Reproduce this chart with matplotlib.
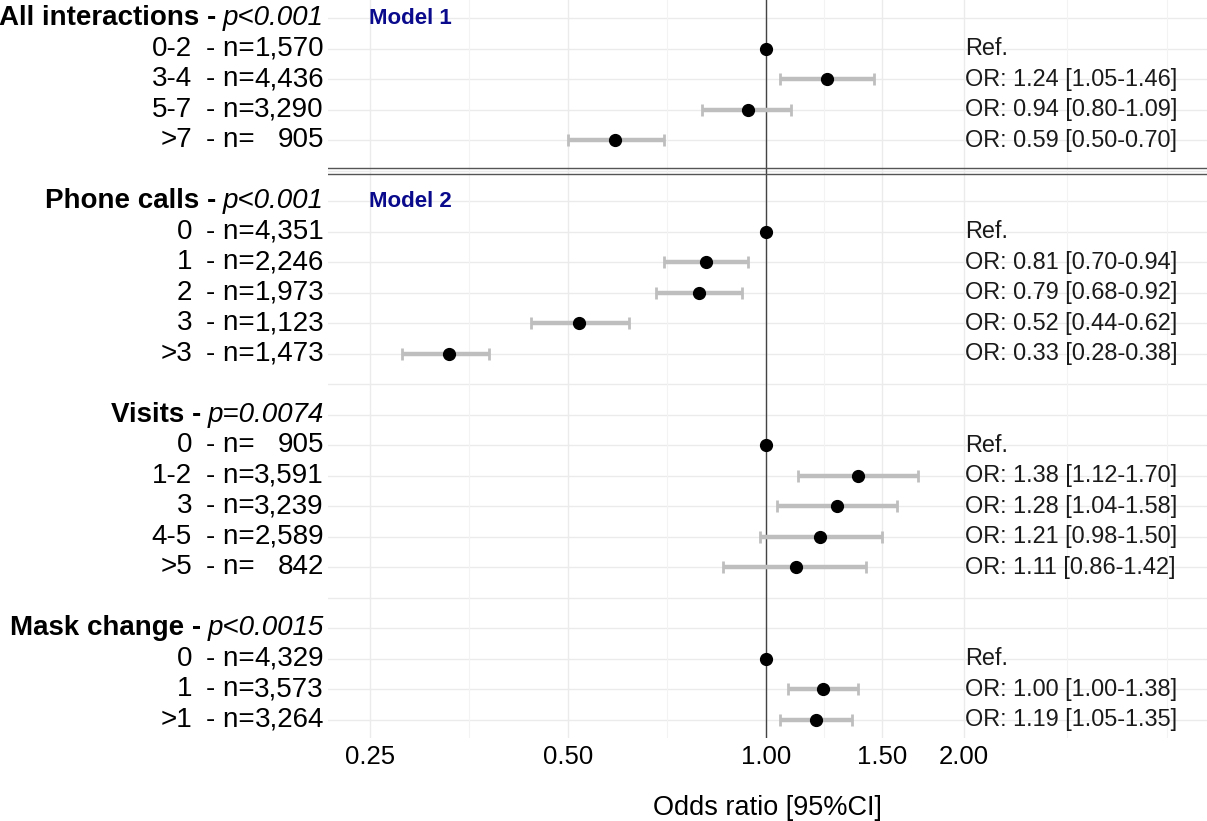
import matplotlib
matplotlib.use("Agg")
import matplotlib.pyplot as plt
import matplotlib.transforms as mtransforms
import numpy as np

plt.rcParams['font.family'] = ['Liberation Sans', 'DejaVu Sans']

# rows: header / item / blank, and the separator between the two models
row_kind = ['h', 'i', 'i', 'i', 'i', 'sep',
            'h', 'i', 'i', 'i', 'i', 'i', 'b',
            'h', 'i', 'i', 'i', 'i', 'i', 'b',
            'h', 'i', 'i', 'i']

headers = ['All interactions -', 'Phone calls -', 'Visits -', 'Mask change -']
header_p = ['p<0.001', 'p<0.001', 'p=0.0074', 'p<0.0015']

categories = ['0-2', '3-4', '5-7', '>7',
              '0', '1', '2', '3', '>3',
              '0', '1-2', '3', '4-5', '>5',
              '0', '1', '>1']
n_counts = ['1,570', '4,436', '3,290', '905',
            '4,351', '2,246', '1,973', '1,123', '1,473',
            '905', '3,591', '3,239', '2,589', '842',
            '4,329', '3,573', '3,264']
odds_ratio = [1.00, 1.24, 0.94, 0.59,
              1.00, 0.81, 0.79, 0.52, 0.33,
              1.00, 1.38, 1.28, 1.21, 1.11,
              1.00, 1.22, 1.19]
ci_low = [np.nan, 1.05, 0.80, 0.50,
          np.nan, 0.70, 0.68, 0.44, 0.28,
          np.nan, 1.12, 1.04, 0.98, 0.86,
          np.nan, 1.08, 1.05]
ci_high = [np.nan, 1.46, 1.09, 0.70,
           np.nan, 0.94, 0.92, 0.62, 0.38,
           np.nan, 1.70, 1.58, 1.50, 1.42,
           np.nan, 1.38, 1.35]
or_labels = ['Ref.', 'OR: 1.24 [1.05-1.46]', 'OR: 0.94 [0.80-1.09]', 'OR: 0.59 [0.50-0.70]',
             'Ref.', 'OR: 0.81 [0.70-0.94]', 'OR: 0.79 [0.68-0.92]', 'OR: 0.52 [0.44-0.62]',
             'OR: 0.33 [0.28-0.38]',
             'Ref.', 'OR: 1.38 [1.12-1.70]', 'OR: 1.28 [1.04-1.58]', 'OR: 1.21 [0.98-1.50]',
             'OR: 1.11 [0.86-1.42]',
             'Ref.', 'OR: 1.00 [1.00-1.38]', 'OR: 1.19 [1.05-1.35]']
model_labels = ['Model 1', 'Model 2']

x_ticks = [0.25, 0.5, 1.0, 1.5, 2.0]
x_minor = [0.3536, 0.7071, 1.2247, 2.87, 4.07]

W, H = 1207, 821
fig = plt.figure(figsize=(W / 100, H / 100), dpi=100)
ax = fig.add_axes([328 / W, 1 - 738 / H, 1 - 328 / W, 738 / H])

ax.set_xscale('log', base=2)
ax.set_xlim(0.216, 4.68)
ax.set_ylim(len(row_kind) - 0.4, -0.6)

item_rows = [i for i, k in enumerate(row_kind) if k == 'i']
header_rows = [i for i, k in enumerate(row_kind) if k == 'h']

# grid
for r in range(len(row_kind)):
    ax.axhline(r, color='#EBEBEB', lw=1.0, zorder=0)
for xv in x_ticks:
    ax.axvline(xv, color='#EBEBEB', lw=1.0, zorder=0)
for xv in x_minor:
    ax.axvline(xv, color='#F3F3F3', lw=0.8, zorder=0)

ax.axvline(1.0, color='#444444', lw=1.0, zorder=1)

# double line between the models
sep = row_kind.index('sep')
ax.axhline(sep - 0.09, color='#555555', lw=1.0, zorder=1)
ax.axhline(sep + 0.09, color='#555555', lw=1.0, zorder=1)

or_arr = np.array(odds_ratio)
lo = np.array(ci_low)
hi = np.array(ci_high)
has_ci = ~np.isnan(lo)
y_items = np.array(item_rows)
ax.errorbar(or_arr[has_ci], y_items[has_ci],
            xerr=[or_arr[has_ci] - lo[has_ci], hi[has_ci] - or_arr[has_ci]],
            fmt='none', ecolor='#BEBEBE', elinewidth=3.2, capsize=4, capthick=2.0, zorder=2)
ax.plot(or_arr, y_items, 'o', color='black', markersize=8.5, zorder=3)

for y, lab in zip(item_rows, or_labels):
    ax.text(2.01, y, lab, ha='left', va='center', fontsize=16.9, color='#1a1a1a')

for y, lab in zip([header_rows[0], header_rows[1]], model_labels):
    ax.text(0.249, y, lab, ha='left', va='center', fontsize=16, fontweight='bold', color='#0A0A8C')

# left labels: category, "- n=", right-aligned count
trans = mtransforms.blended_transform_factory(fig.transFigure, ax.transData)
for y, cat, n in zip(item_rows, categories, n_counts):
    ax.text(192 / W, y, cat, transform=trans, ha='right', va='center', fontsize=20, clip_on=False)
    ax.text(206 / W, y, '- n=', transform=trans, ha='left', va='center', fontsize=20, clip_on=False)
    ax.text(324 / W, y, n, transform=trans, ha='right', va='center', fontsize=20, clip_on=False)

renderer = fig.canvas.get_renderer()
for y, name, p in zip(header_rows, headers, header_p):
    t = ax.text(324 / W, y, p, transform=trans, ha='right', va='center',
                fontsize=20, fontstyle='italic', clip_on=False)
    bb = t.get_window_extent(renderer=renderer)
    ax.text((bb.x0 - 7) / W, y, name, transform=trans, ha='right', va='center',
            fontsize=20, fontweight='bold', clip_on=False)

ax.set_yticks([])
ax.set_xticks(x_ticks)
ax.set_xticklabels(['%.2f' % v for v in x_ticks], fontsize=18.5)
ax.xaxis.set_minor_locator(matplotlib.ticker.NullLocator())
ax.tick_params(axis='x', length=0, pad=5)
ax.set_xlabel('Odds ratio [95%CI]', fontsize=19.5, labelpad=19)
for s in ax.spines.values():
    s.set_visible(False)

fig.savefig('out.png', dpi=100)
